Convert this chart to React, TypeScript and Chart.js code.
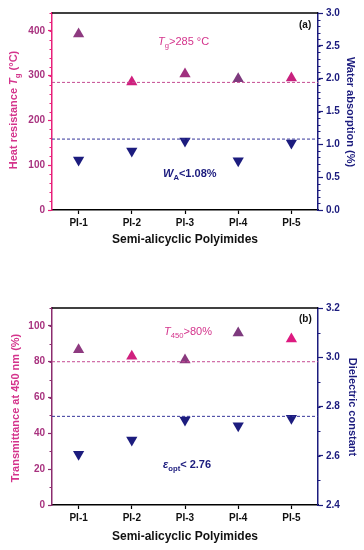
import React, { useEffect, useRef } from "react";
import { Chart, registerables } from "chart.js";

Chart.register(...registerables);

// ---------- data ----------
const categories = ["PI-1", "PI-2", "PI-3", "PI-4", "PI-5"];
const tgValues = [393, 286, 304, 293, 295];
const waterAbsorption = [0.76, 0.9, 1.05, 0.75, 1.02];
const transmittance = [86.7, 83, 81, 96, 92.7];
const dielectricConstant = [2.606, 2.664, 2.745, 2.722, 2.752];

const tgThreshold = 285;
const waThreshold = 1.08;
const transThreshold = 80;
const dielectricThreshold = 2.76;

const tgTicks = [0, 100, 200, 300, 400];
const waTicks = [0, 0.5, 1.0, 1.5, 2.0, 2.5, 3.0];
const transTicks = [0, 20, 40, 60, 80, 100];
const dielectricTicks = [2.4, 2.6, 2.8, 3.0, 3.2];

// ---------- styles ----------
const FONT = '"Liberation Sans", Arial, Helvetica, sans-serif';
const MAGENTA = "#d4348c";
const MAGENTA_TICK = "#a8327f";
const NAVY = "#1c1c7e";
const upColorsA = ["#8e3a80", "#d01f7e", "#a0307f", "#7e3a7e", "#c8217e"];
const upColorsB = ["#8e3a80", "#d0207e", "#8a3a7e", "#7e3a7e", "#dd1a80"];

type Part = { t: string; italic?: boolean; sub?: boolean; bold?: boolean };

function partFont(p: Part, size: number, bold: boolean) {
  const s = p.sub ? size * 0.7 : size;
  return `${p.italic ? "italic " : ""}${bold || p.bold ? "bold " : ""}${s}px ${FONT}`;
}

function measureRich(ctx: CanvasRenderingContext2D, parts: Part[], size: number, bold: boolean) {
  let w = 0;
  for (const p of parts) {
    ctx.font = partFont(p, size, bold);
    w += ctx.measureText(p.t).width;
  }
  return w;
}

function drawRich(
  ctx: CanvasRenderingContext2D,
  parts: Part[],
  x: number,
  y: number,
  size: number,
  color: string,
  bold: boolean,
  align: "left" | "center" = "left"
) {
  ctx.save();
  ctx.fillStyle = color;
  ctx.textBaseline = "middle";
  ctx.textAlign = "left";
  let cx = align === "center" ? x - measureRich(ctx, parts, size, bold) / 2 : x;
  for (const p of parts) {
    ctx.font = partFont(p, size, bold);
    ctx.fillText(p.t, cx, p.sub ? y + size * 0.35 : y);
    cx += ctx.measureText(p.t).width;
  }
  ctx.restore();
}

type Label = {
  parts: Part[];
  x: number;
  y: number;
  size: number;
  color: string;
  bold: boolean;
  rotate?: number;
};

type PanelSpec = {
  height: number;
  top: number;
  padTop: number;
  xHeight: number;
  up: number[];
  down: number[];
  upColors: string[];
  leftMin: number;
  leftMax: number;
  leftTicks: number[];
  leftMinorStep: number;
  rightMin: number;
  rightMax: number;
  rightTicks: number[];
  rightMinorStep: number;
  leftThreshold: number;
  rightThreshold: number;
  leftAxisColor: string;
  labels: Label[];
  rightDecimals: number;
};

function makePlugin(spec: PanelSpec) {
  return {
    id: "extras",
    afterDatasetsDraw(chart: any) {
      const ctx: CanvasRenderingContext2D = chart.ctx;
      const ca = chart.chartArea;
      const yl = chart.scales.yLeft;
      const yr = chart.scales.yRight;
      ctx.save();
      ctx.lineWidth = 1;
      ctx.setLineDash([3, 2]);
      const yT1 = yl.getPixelForValue(spec.leftThreshold);
      ctx.strokeStyle = "#c44a92";
      ctx.beginPath();
      ctx.moveTo(ca.left, yT1);
      ctx.lineTo(ca.right, yT1);
      ctx.stroke();
      const yT2 = yr.getPixelForValue(spec.rightThreshold);
      ctx.strokeStyle = "#34349a";
      ctx.beginPath();
      ctx.moveTo(ca.left, yT2);
      ctx.lineTo(ca.right, yT2);
      ctx.stroke();
      ctx.setLineDash([]);
      ctx.restore();
    },
    afterDraw(chart: any) {
      const ctx: CanvasRenderingContext2D = chart.ctx;
      const ca = chart.chartArea;
      const yl = chart.scales.yLeft;
      const yr = chart.scales.yRight;
      ctx.save();
      ctx.strokeStyle = "#000";
      ctx.lineWidth = 1.5;
      ctx.beginPath();
      ctx.moveTo(ca.left, ca.top);
      ctx.lineTo(ca.right, ca.top);
      ctx.stroke();
      ctx.lineWidth = 1;
      ctx.strokeStyle = spec.leftAxisColor;
      for (let v = spec.leftMin; v <= spec.leftMax + 1e-9; v += spec.leftMinorStep) {
        const y = Math.round(yl.getPixelForValue(v)) + 0.5;
        ctx.beginPath();
        ctx.moveTo(ca.left, y);
        ctx.lineTo(ca.left - 2.5, y);
        ctx.stroke();
      }
      ctx.strokeStyle = NAVY;
      const n = Math.round((spec.rightMax - spec.rightMin) / spec.rightMinorStep);
      for (let i = 0; i <= n; i++) {
        const v = spec.rightMin + i * spec.rightMinorStep;
        const y = Math.round(yr.getPixelForValue(v)) + 0.5;
        ctx.beginPath();
        ctx.moveTo(ca.right, y);
        ctx.lineTo(ca.right + 2.5, y);
        ctx.stroke();
      }
      ctx.restore();
      for (const l of spec.labels) {
        if (l.rotate) {
          ctx.save();
          ctx.translate(l.x, l.y);
          ctx.rotate(l.rotate);
          drawRich(ctx, l.parts, 0, 0, l.size, l.color, l.bold, "center");
          ctx.restore();
        } else {
          drawRich(ctx, l.parts, l.x, l.y, l.size, l.color, l.bold, "left");
        }
      }
    },
  };
}

function Panel({ spec }: { spec: PanelSpec }) {
  const ref = useRef<HTMLCanvasElement | null>(null);
  useEffect(() => {
    if (!ref.current) return;
    const chart = new Chart(ref.current, {
      type: "line",
      data: {
        labels: categories,
        datasets: [
          {
            data: spec.up,
            yAxisID: "yLeft",
            showLine: false,
            pointStyle: "triangle",
            pointRadius: 6.5,
            pointBackgroundColor: spec.upColors,
            pointBorderColor: spec.upColors,
            pointBorderWidth: 0,
          },
          {
            data: spec.down,
            yAxisID: "yRight",
            showLine: false,
            pointStyle: "triangle",
            rotation: 180,
            pointRadius: 6.5,
            pointBackgroundColor: NAVY,
            pointBorderColor: NAVY,
            pointBorderWidth: 0,
          },
        ],
      },
      options: {
        responsive: false,
        animation: false,
        layout: { padding: { top: spec.padTop, left: 0, right: 0, bottom: 0 } },
        plugins: { legend: { display: false }, tooltip: { enabled: false } },
        scales: {
          x: {
            type: "category",
            offset: true,
            border: { display: true, color: "#000", width: 1.5 },
            grid: { display: true, drawOnChartArea: false, offset: false, tickLength: 4, tickColor: "#000", tickWidth: 1.2 },
            ticks: { color: "#111", font: { family: FONT, size: 10, weight: "bold" }, padding: 3, maxRotation: 0 },
            afterFit: (s: any) => {
              s.height = spec.xHeight;
            },
          },
          yLeft: {
            type: "linear",
            position: "left",
            min: spec.leftMin,
            max: spec.leftMax,
            afterBuildTicks: (s: any) => {
              s.ticks = spec.leftTicks.map((v) => ({ value: v }));
            },
            border: { display: true, color: spec.leftAxisColor, width: 1.5 },
            grid: { display: true, drawOnChartArea: false, tickLength: 4, tickColor: spec.leftAxisColor, tickWidth: 1.2 },
            ticks: {
              color: MAGENTA_TICK,
              font: { family: FONT, size: 10, weight: "bold" },
              padding: 3,
              callback: (v: any) => String(v),
            },
            afterFit: (s: any) => {
              s.width = 52;
            },
          },
          yRight: {
            type: "linear",
            position: "right",
            min: spec.rightMin,
            max: spec.rightMax,
            afterBuildTicks: (s: any) => {
              s.ticks = spec.rightTicks.map((v) => ({ value: v }));
            },
            border: { display: true, color: NAVY, width: 1.5 },
            grid: { display: true, drawOnChartArea: false, tickLength: 5, tickColor: NAVY, tickWidth: 1.2 },
            ticks: {
              color: NAVY,
              font: { family: FONT, size: 10, weight: "bold" },
              padding: 3,
              callback: (v: any) => Number(v).toFixed(spec.rightDecimals),
            },
            afterFit: (s: any) => {
              s.width = 46;
            },
          },
        },
      } as any,
      plugins: [makePlugin(spec)],
    });
    return () => chart.destroy();
  }, [spec]);
  return (
    <div style={{ position: "absolute", left: 0, top: spec.top, width: 364, height: spec.height }}>
      <canvas ref={ref} width={364} height={spec.height} style={{ display: "block" }} />
    </div>
  );
}

const xTitle: Part[] = [{ t: "Semi-alicyclic Polyimides" }];

const specA: PanelSpec = {
  height: 262,
  top: 0,
  padTop: 13,
  xHeight: 52,
  up: tgValues,
  down: waterAbsorption,
  upColors: upColorsA,
  leftMin: 0,
  leftMax: 440,
  leftTicks: tgTicks,
  leftMinorStep: 20,
  rightMin: 0,
  rightMax: 3.0,
  rightTicks: waTicks,
  rightMinorStep: 0.1,
  leftThreshold: tgThreshold,
  rightThreshold: waThreshold,
  leftAxisColor: "#e8207a",
  rightDecimals: 1,
  labels: [
    { parts: [{ t: "Heat resistance " }, { t: "T", italic: true }, { t: "g", sub: true }, { t: " (°C)" }], x: 14, y: 110, size: 11, color: MAGENTA, bold: true, rotate: -Math.PI / 2 },
    { parts: [{ t: "Water absorption (%)" }], x: 350, y: 112, size: 11, color: NAVY, bold: true, rotate: Math.PI / 2 },
    { parts: xTitle, x: 185, y: 240, size: 12, color: "#111", bold: true, rotate: 0.000001 },
    { parts: [{ t: "T", italic: true }, { t: "g", sub: true }, { t: ">285 °C" }], x: 158, y: 42, size: 11, color: MAGENTA, bold: false },
    { parts: [{ t: "W", italic: true }, { t: "A", sub: true }, { t: "<1.08%" }], x: 163, y: 174, size: 11, color: NAVY, bold: true },
    { parts: [{ t: "(a)" }], x: 299, y: 25, size: 10, color: "#111", bold: true },
  ],
};

const specB: PanelSpec = {
  height: 280,
  top: 270,
  padTop: 38,
  xHeight: 45,
  up: transmittance,
  down: dielectricConstant,
  upColors: upColorsB,
  leftMin: 0,
  leftMax: 110,
  leftTicks: transTicks,
  leftMinorStep: 10,
  rightMin: 2.4,
  rightMax: 3.2,
  rightTicks: dielectricTicks,
  rightMinorStep: 0.1,
  leftThreshold: transThreshold,
  rightThreshold: dielectricThreshold,
  leftAxisColor: "#8b2c6e",
  rightDecimals: 1,
  labels: [
    { parts: [{ t: "Transmittance at 450 nm (%)" }], x: 16, y: 138, size: 11, color: MAGENTA, bold: true, rotate: -Math.PI / 2 },
    { parts: [{ t: "Dielectric constant" }], x: 352, y: 137, size: 11, color: NAVY, bold: true, rotate: Math.PI / 2 },
    { parts: xTitle, x: 185, y: 267, size: 12, color: "#111", bold: true, rotate: 0.000001 },
    { parts: [{ t: "T", italic: true }, { t: "450", sub: true }, { t: ">80%" }], x: 164, y: 62, size: 11, color: MAGENTA, bold: false },
    { parts: [{ t: "ε", italic: true }, { t: "opt", sub: true }, { t: "< 2.76" }], x: 163, y: 195, size: 11, color: NAVY, bold: true },
    { parts: [{ t: "(b)" }], x: 299, y: 49, size: 10, color: "#111", bold: true },
  ],
};

export default function App() {
  useEffect(() => {
    document.body.style.margin = "0";
  }, []);
  return (
    <div style={{ position: "relative", width: 364, height: 550, background: "#fff" }}>
      <Panel spec={specA} />
      <Panel spec={specB} />
    </div>
  );
}
